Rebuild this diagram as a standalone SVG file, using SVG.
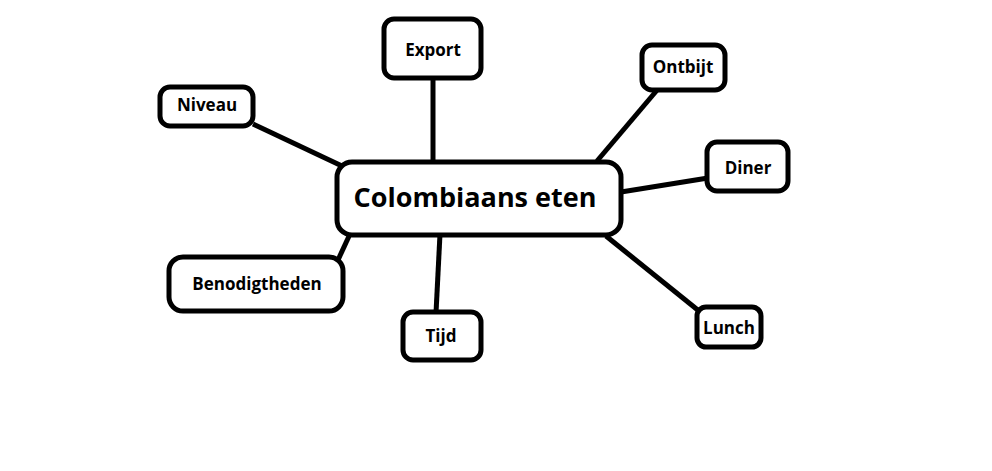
<svg xmlns="http://www.w3.org/2000/svg" width="992" height="471" viewBox="0 0 992 471">
<style>
.box{fill:#fff;stroke:#000;stroke-width:5}
.lbl{font-family:"Open Sans","Noto Sans",sans-serif;font-weight:bold;font-size:17px;fill:#000;text-anchor:middle}
.big{font-size:27px}
.con line{stroke:#000;stroke-width:5}
</style>
<rect width="992" height="471" fill="#fff"/>
<g class="con">
<line x1="253" y1="124" x2="342" y2="166"/>
<line x1="433" y1="78" x2="433" y2="163"/>
<line x1="658" y1="89" x2="597" y2="161"/>
<line x1="708" y1="178" x2="621" y2="192"/>
<line x1="699" y1="311" x2="606" y2="236"/>
<line x1="440" y1="234" x2="436" y2="313"/>
<line x1="350" y1="234" x2="338" y2="260"/>
</g>
<g id="center"><rect class="box" x="337" y="162" width="284" height="73" rx="15"/><text class="lbl big" x="475" y="207">Colombiaans eten</text></g>
<g id="export"><rect class="box" x="384" y="19" width="97" height="59" rx="10"/><text class="lbl" x="433" y="56">Export</text></g>
<g id="niveau"><rect class="box" x="160" y="87" width="93" height="39" rx="10"/><text class="lbl" x="207" y="111">Niveau</text></g>
<g id="ontbijt"><rect class="box" x="642" y="45" width="83" height="45" rx="10"/><text class="lbl" x="683" y="73">Ontbijt</text></g>
<g id="diner"><rect class="box" x="707" y="142" width="81" height="49" rx="10"/><text class="lbl" x="748" y="174">Diner</text></g>
<g id="benodigtheden"><rect class="box" x="169" y="257" width="174" height="54" rx="14"/><text class="lbl" x="257" y="290">Benodigtheden</text></g>
<g id="tijd"><rect class="box" x="403" y="312" width="78" height="48" rx="10"/><text class="lbl" x="441" y="342">Tijd</text></g>
<g id="lunch"><rect class="box" x="697" y="307" width="64" height="40" rx="9"/><text class="lbl" x="729" y="334">Lunch</text></g>
</svg>
